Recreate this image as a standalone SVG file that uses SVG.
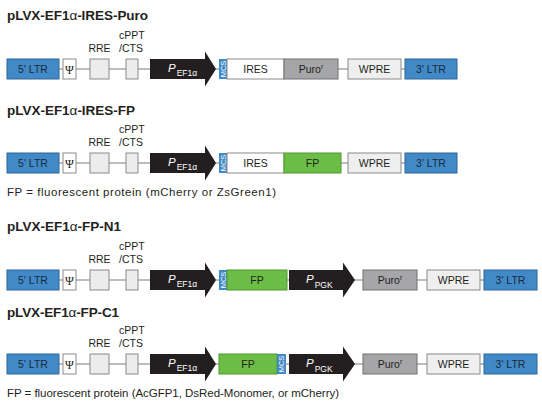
<svg xmlns="http://www.w3.org/2000/svg" width="542" height="403" viewBox="0 0 542 403">
<style>
text{font-family:"Liberation Sans",Arial,sans-serif;fill:#231f20}
.title{font-size:13.5px;font-weight:bold}
.alpha{font-weight:normal}
.lbl{font-size:10.5px}
.ctr{text-anchor:middle}
.note{font-size:11.5px}
.ltr{fill:#4189c7;stroke:#2f6699;stroke-width:1}
.ltr-t{fill:#1b2a3a}
.box{fill:#ffffff;stroke:#8a8a8a;stroke-width:1}
.lg{fill:#ececec;stroke:#8a8a8a;stroke-width:1}
.wpre{fill:#efefef;stroke:#8a8a8a;stroke-width:1}
.puro{fill:#a6a6a9;stroke:#707073;stroke-width:1}
.fp{fill:#6cbd45;stroke:#4e9a2f;stroke-width:1}
.mcs{fill:#4189c7;stroke:none}
.mcs-t{font-size:7.5px;fill:#ffffff;text-anchor:middle}
.arrow{fill:#231f20}
.pt{fill:#ffffff;font-style:italic;font-size:11.5px}
.sub{fill:#ffffff;font-size:8.5px;font-style:normal}
.psi{font-family:"Liberation Serif","Times New Roman",serif;font-size:12px}
.conn{stroke:#7a7a7a;stroke-width:1;fill:none}
</style>

<g id="connectors">
<line class="conn" x1="59" y1="69" x2="457" y2="69"/>
<line class="conn" x1="59" y1="163" x2="457" y2="163"/>
<line class="conn" x1="59" y1="280" x2="537" y2="280"/>
<line class="conn" x1="59" y1="364" x2="537" y2="364"/>
</g>

<!-- Row 1 -->
<g id="title1"><text class="title" x="7" y="19.5" textLength="141" lengthAdjust="spacing">pLVX-EF1<tspan class="alpha">α</tspan>-IRES-Puro</text></g>
<g id="r1-ltr5"><rect class="ltr" x="7" y="59" width="52" height="20"/><text class="lbl ctr ltr-t" x="33" y="72.8">5' LTR</text></g>
<g id="r1-psi"><rect class="box" x="63" y="59" width="13" height="20"/><text class="psi ctr" x="69.5" y="73.5">Ψ</text></g>
<g id="r1-rre"><rect class="lg" x="90" y="59" width="19" height="20"/><text class="lbl ctr" x="99.5" y="52">RRE</text></g>
<g id="r1-cppt"><rect class="lg" x="126" y="59" width="12" height="20"/><text class="lbl" x="119" y="39">cPPT</text><text class="lbl" x="119" y="52">/CTS</text></g>
<g id="r1-pef1a"><polygon class="arrow" points="150,59 205,59 205,51.5 216,69 205,86.5 205,79 150,79"/><text class="pt" x="168" y="72">P<tspan class="sub" dy="4" dx="1">EF1α</tspan></text></g>
<g id="r1-mcs"><rect class="mcs" x="219" y="59" width="8" height="20"/><text class="mcs-t" transform="translate(225.7 69) rotate(-90)">MCS</text></g>
<g id="r1-ires"><rect class="box" x="227" y="59" width="57" height="20"/><text class="lbl ctr" x="255.5" y="72.8">IRES</text></g>
<g id="r1-puro"><rect class="puro" x="284" y="59" width="54" height="20"/><text class="lbl ctr" x="311" y="72.8">Puro<tspan font-size="7" dy="-4">r</tspan></text></g>
<g id="r1-wpre"><rect class="wpre" x="348" y="59" width="53" height="20"/><text class="lbl ctr" x="374.5" y="72.8">WPRE</text></g>
<g id="r1-ltr3"><rect class="ltr" x="405" y="59" width="52" height="20"/><text class="lbl ctr ltr-t" x="431" y="72.8">3' LTR</text></g>

<!-- Row 2 -->
<g id="title2"><text class="title" x="7" y="115" textLength="128" lengthAdjust="spacing">pLVX-EF1<tspan class="alpha">α</tspan>-IRES-FP</text></g>
<g id="r2-ltr5"><rect class="ltr" x="7" y="153" width="52" height="20"/><text class="lbl ctr ltr-t" x="33" y="166.8">5' LTR</text></g>
<g id="r2-psi"><rect class="box" x="63" y="153" width="13" height="20"/><text class="psi ctr" x="69.5" y="167.5">Ψ</text></g>
<g id="r2-rre"><rect class="lg" x="90" y="153" width="19" height="20"/><text class="lbl ctr" x="99.5" y="146">RRE</text></g>
<g id="r2-cppt"><rect class="lg" x="126" y="153" width="12" height="20"/><text class="lbl" x="119" y="133">cPPT</text><text class="lbl" x="119" y="146">/CTS</text></g>
<g id="r2-pef1a"><polygon class="arrow" points="150,153 205,153 205,145.5 216,163 205,180.5 205,173 150,173"/><text class="pt" x="168" y="166">P<tspan class="sub" dy="4" dx="1">EF1α</tspan></text></g>
<g id="r2-mcs"><rect class="mcs" x="219" y="153" width="8" height="20"/><text class="mcs-t" transform="translate(225.7 163) rotate(-90)">MCS</text></g>
<g id="r2-ires"><rect class="box" x="227" y="153" width="57" height="20"/><text class="lbl ctr" x="255.5" y="166.8">IRES</text></g>
<g id="r2-fp"><rect class="fp" x="284" y="153" width="57" height="20"/><text class="lbl ctr" x="312.5" y="166.8">FP</text></g>
<g id="r2-wpre"><rect class="wpre" x="348" y="153" width="53" height="20"/><text class="lbl ctr" x="374.5" y="166.8">WPRE</text></g>
<g id="r2-ltr3"><rect class="ltr" x="405" y="153" width="52" height="20"/><text class="lbl ctr ltr-t" x="431" y="166.8">3' LTR</text></g>
<g id="note1"><text class="note" x="7" y="195.5" textLength="269" lengthAdjust="spacing">FP = fluorescent protein (mCherry or ZsGreen1)</text></g>

<!-- Row 3 -->
<g id="title3"><text class="title" x="7" y="231" textLength="114" lengthAdjust="spacing">pLVX-EF1<tspan class="alpha">α</tspan>-FP-N1</text></g>
<g id="r3-ltr5"><rect class="ltr" x="7" y="270" width="52" height="20"/><text class="lbl ctr ltr-t" x="33" y="283.8">5' LTR</text></g>
<g id="r3-psi"><rect class="box" x="63" y="270" width="13" height="20"/><text class="psi ctr" x="69.5" y="284.5">Ψ</text></g>
<g id="r3-rre"><rect class="lg" x="90" y="270" width="19" height="20"/><text class="lbl ctr" x="99.5" y="263">RRE</text></g>
<g id="r3-cppt"><rect class="lg" x="126" y="270" width="12" height="20"/><text class="lbl" x="119" y="250">cPPT</text><text class="lbl" x="119" y="263">/CTS</text></g>
<g id="r3-pef1a"><polygon class="arrow" points="150,270 205,270 205,262.5 216,280 205,297.5 205,290 150,290"/><text class="pt" x="168" y="283">P<tspan class="sub" dy="4" dx="1">EF1α</tspan></text></g>
<g id="r3-mcs"><rect class="mcs" x="219" y="270" width="8" height="20"/><text class="mcs-t" transform="translate(225.7 280) rotate(-90)">MCS</text></g>
<g id="r3-fp"><rect class="fp" x="227" y="270" width="60" height="20"/><text class="lbl ctr" x="257" y="283.8">FP</text></g>
<g id="r3-ppgk"><polygon class="arrow" points="289,270 343,270 343,262.5 355,280 343,297.5 343,290 289,290"/><text class="pt" x="306" y="283">P<tspan class="sub" dy="5" dx="1">PGK</tspan></text></g>
<g id="r3-puro"><rect class="puro" x="363" y="270" width="54" height="20"/><text class="lbl ctr" x="390" y="283.8">Puro<tspan font-size="7" dy="-4">r</tspan></text></g>
<g id="r3-wpre"><rect class="wpre" x="427" y="270" width="53" height="20"/><text class="lbl ctr" x="453.5" y="283.8">WPRE</text></g>
<g id="r3-ltr3"><rect class="ltr" x="484" y="270" width="53" height="20"/><text class="lbl ctr ltr-t" x="510.5" y="283.8">3' LTR</text></g>

<!-- Row 4 -->
<g id="title4"><text class="title" x="7" y="317" textLength="112" lengthAdjust="spacing">pLVX-EF1<tspan class="alpha">α</tspan>-FP-C1</text></g>
<g id="r4-ltr5"><rect class="ltr" x="7" y="354" width="52" height="20"/><text class="lbl ctr ltr-t" x="33" y="367.8">5' LTR</text></g>
<g id="r4-psi"><rect class="box" x="63" y="354" width="13" height="20"/><text class="psi ctr" x="69.5" y="368.5">Ψ</text></g>
<g id="r4-rre"><rect class="lg" x="90" y="354" width="19" height="20"/><text class="lbl ctr" x="99.5" y="347">RRE</text></g>
<g id="r4-cppt"><rect class="lg" x="126" y="354" width="12" height="20"/><text class="lbl" x="119" y="334">cPPT</text><text class="lbl" x="119" y="347">/CTS</text></g>
<g id="r4-pef1a"><polygon class="arrow" points="150,354 205,354 205,346.5 216,364 205,381.5 205,374 150,374"/><text class="pt" x="168" y="367">P<tspan class="sub" dy="4" dx="1">EF1α</tspan></text></g>
<g id="r4-fp"><rect class="fp" x="219" y="354" width="58" height="20"/><text class="lbl ctr" x="248" y="367.8">FP</text></g>
<g id="r4-mcs"><rect class="mcs" x="277" y="354" width="9" height="20"/><text class="mcs-t" transform="translate(284.2 364) rotate(-90)">MCS</text></g>
<g id="r4-ppgk"><polygon class="arrow" points="289,354 343,354 343,346.5 355,364 343,381.5 343,374 289,374"/><text class="pt" x="306" y="367">P<tspan class="sub" dy="5" dx="1">PGK</tspan></text></g>
<g id="r4-puro"><rect class="puro" x="363" y="354" width="54" height="20"/><text class="lbl ctr" x="390" y="367.8">Puro<tspan font-size="7" dy="-4">r</tspan></text></g>
<g id="r4-wpre"><rect class="wpre" x="427" y="354" width="53" height="20"/><text class="lbl ctr" x="453.5" y="367.8">WPRE</text></g>
<g id="r4-ltr3"><rect class="ltr" x="484" y="354" width="53" height="20"/><text class="lbl ctr ltr-t" x="510.5" y="367.8">3' LTR</text></g>
<g id="note2"><text class="note" x="7" y="396.5" textLength="332" lengthAdjust="spacing">FP = fluorescent protein (AcGFP1, DsRed-Monomer, or mCherry)</text></g>
</svg>
